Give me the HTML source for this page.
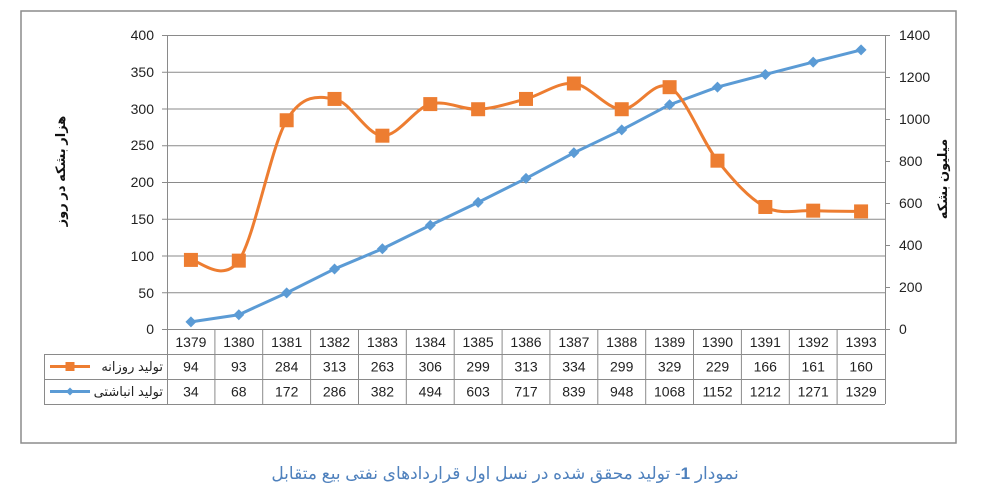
<!DOCTYPE html>
<html>
<head>
<meta charset="utf-8">
<style>
  html, body { margin:0; padding:0; background:#fff; }
  body { width:999px; height:499px; overflow:hidden; }
  svg { display:block; }
  text { font-family: "Liberation Sans", "DejaVu Sans", sans-serif; }
  .fa { font-family: "Liberation Sans", "DejaVu Sans", "Noto Sans CJK SC", sans-serif; }
</style>
</head>
<body>
<svg width="999" height="499" viewBox="0 0 999 499" xmlns="http://www.w3.org/2000/svg">
  <rect x="0" y="0" width="999" height="499" fill="#fff"/>
  <!-- outer frame -->
  <rect x="21" y="11" width="935" height="432" fill="none" stroke="#8c8c8c" stroke-width="1.5"/>

  <!-- gridlines -->
  <g stroke="#8a8a8a" stroke-width="1">
    <line x1="162" y1="35.5" x2="890" y2="35.5"/>
    <line x1="162" y1="72.25" x2="885" y2="72.25"/>
    <line x1="162" y1="109" x2="885" y2="109"/>
    <line x1="162" y1="145.75" x2="885" y2="145.75"/>
    <line x1="162" y1="182.5" x2="885" y2="182.5"/>
    <line x1="162" y1="219.25" x2="885" y2="219.25"/>
    <line x1="162" y1="256" x2="885" y2="256"/>
    <line x1="162" y1="292.75" x2="885" y2="292.75"/>
    <line x1="162" y1="329.5" x2="890" y2="329.5"/>
    <!-- right ticks -->
    <line x1="885" y1="77.5" x2="890" y2="77.5"/>
    <line x1="885" y1="119.5" x2="890" y2="119.5"/>
    <line x1="885" y1="161.5" x2="890" y2="161.5"/>
    <line x1="885" y1="203.5" x2="890" y2="203.5"/>
    <line x1="885" y1="245.5" x2="890" y2="245.5"/>
    <line x1="885" y1="287.5" x2="890" y2="287.5"/>
    <!-- axes -->
    <line x1="167.5" y1="35" x2="167.5" y2="404"/>
    <line x1="885.5" y1="35" x2="885.5" y2="404"/>
  </g>

  <!-- left tick labels -->
  <g font-size="14" fill="#222" text-anchor="end">
    <text x="154" y="40">400</text>
    <text x="154" y="77">350</text>
    <text x="154" y="114">300</text>
    <text x="154" y="150">250</text>
    <text x="154" y="187">200</text>
    <text x="154" y="224">150</text>
    <text x="154" y="261">100</text>
    <text x="154" y="298">50</text>
    <text x="154" y="334">0</text>
  </g>
  <!-- right tick labels -->
  <g font-size="14" fill="#222" text-anchor="start">
    <text x="899" y="40">1400</text>
    <text x="899" y="82">1200</text>
    <text x="899" y="124">1000</text>
    <text x="899" y="166">800</text>
    <text x="899" y="208">600</text>
    <text x="899" y="250">400</text>
    <text x="899" y="292">200</text>
    <text x="899" y="334">0</text>
  </g>

  <!-- axis titles -->
  <text class="fa" x="0" y="0" font-size="13" font-weight="bold" fill="#111" text-anchor="middle" transform="translate(65,171) rotate(-90)" direction="rtl">هزار بشکه در روز</text>
  <text class="fa" x="0" y="0" font-size="13" font-weight="bold" fill="#111" text-anchor="middle" transform="translate(947,179) rotate(-90)" direction="rtl">میلیون بشکه</text>

  <!-- data table -->
  <g stroke="#8a8a8a" stroke-width="1" fill="none">
    <line x1="167" y1="354.5" x2="885" y2="354.5"/>
    <line x1="44" y1="354.5" x2="167" y2="354.5"/>
    <line x1="44" y1="379.5" x2="885" y2="379.5"/>
    <line x1="44" y1="404.5" x2="885" y2="404.5"/>
    <line x1="44.5" y1="354" x2="44.5" y2="404"/>
    <line x1="214.9" y1="329" x2="214.9" y2="404"/>
    <line x1="262.7" y1="329" x2="262.7" y2="404"/>
    <line x1="310.6" y1="329" x2="310.6" y2="404"/>
    <line x1="358.5" y1="329" x2="358.5" y2="404"/>
    <line x1="406.3" y1="329" x2="406.3" y2="404"/>
    <line x1="454.2" y1="329" x2="454.2" y2="404"/>
    <line x1="502.1" y1="329" x2="502.1" y2="404"/>
    <line x1="549.9" y1="329" x2="549.9" y2="404"/>
    <line x1="597.8" y1="329" x2="597.8" y2="404"/>
    <line x1="645.7" y1="329" x2="645.7" y2="404"/>
    <line x1="693.5" y1="329" x2="693.5" y2="404"/>
    <line x1="741.4" y1="329" x2="741.4" y2="404"/>
    <line x1="789.3" y1="329" x2="789.3" y2="404"/>
    <line x1="837.1" y1="329" x2="837.1" y2="404"/>
  </g>
  <g font-size="14" fill="#222" text-anchor="middle">
    <text x="190.9" y="347">1379</text><text x="238.8" y="347">1380</text><text x="286.7" y="347">1381</text><text x="334.5" y="347">1382</text><text x="382.4" y="347">1383</text><text x="430.3" y="347">1384</text><text x="478.1" y="347">1385</text><text x="526" y="347">1386</text><text x="573.9" y="347">1387</text><text x="621.7" y="347">1388</text><text x="669.6" y="347">1389</text><text x="717.5" y="347">1390</text><text x="765.3" y="347">1391</text><text x="813.2" y="347">1392</text><text x="861.1" y="347">1393</text>

    <text x="190.9" y="371.5">94</text><text x="238.8" y="371.5">93</text><text x="286.7" y="371.5">284</text><text x="334.5" y="371.5">313</text><text x="382.4" y="371.5">263</text><text x="430.3" y="371.5">306</text><text x="478.1" y="371.5">299</text><text x="526" y="371.5">313</text><text x="573.9" y="371.5">334</text><text x="621.7" y="371.5">299</text><text x="669.6" y="371.5">329</text><text x="717.5" y="371.5">229</text><text x="765.3" y="371.5">166</text><text x="813.2" y="371.5">161</text><text x="861.1" y="371.5">160</text>

    <text x="190.9" y="396.5">34</text><text x="238.8" y="396.5">68</text><text x="286.7" y="396.5">172</text><text x="334.5" y="396.5">286</text><text x="382.4" y="396.5">382</text><text x="430.3" y="396.5">494</text><text x="478.1" y="396.5">603</text><text x="526" y="396.5">717</text><text x="573.9" y="396.5">839</text><text x="621.7" y="396.5">948</text><text x="669.6" y="396.5">1068</text><text x="717.5" y="396.5">1152</text><text x="765.3" y="396.5">1212</text><text x="813.2" y="396.5">1271</text><text x="861.1" y="396.5">1329</text>
  </g>
  <!-- legend keys -->
  <line x1="50" y1="366.5" x2="90" y2="366.5" stroke="#ED7D31" stroke-width="3"/>
  <rect x="65.5" y="362" width="9" height="9" fill="#ED7D31"/>
  <text class="fa" x="163" y="371" font-size="13" fill="#222" text-anchor="start" direction="rtl">تولید روزانه</text>
  <line x1="50" y1="391.5" x2="90" y2="391.5" stroke="#5B9BD5" stroke-width="3"/>
  <polygon points="70,387.5 74,391.5 70,395.5 66,391.5" fill="#5B9BD5"/>
  <text class="fa" x="163" y="396" font-size="13" fill="#222" text-anchor="start" direction="rtl">تولید انباشتی</text>

  <!-- blue series -->
  <polyline fill="none" stroke="#5B9BD5" stroke-width="3" stroke-linejoin="round"
    points="190.93,321.86 238.8,314.72 286.67,292.88 334.53,268.94 382.4,248.78 430.27,225.26 478.13,202.37 526,178.43 573.87,152.81 621.73,129.92 669.6,104.72 717.47,87.08 765.33,74.48 813.2,62.09 861.07,49.91"/>
  <g fill="#5B9BD5">
    <polygon points="190.93,316.36 196.43,321.86 190.93,327.36 185.43,321.86"/>
    <polygon points="238.8,309.22 244.3,314.72 238.8,320.22 233.3,314.72"/>
    <polygon points="286.67,287.38 292.17,292.88 286.67,298.38 281.17,292.88"/>
    <polygon points="334.53,263.44 340.03,268.94 334.53,274.44 329.03,268.94"/>
    <polygon points="382.4,243.28 387.9,248.78 382.4,254.28 376.9,248.78"/>
    <polygon points="430.27,219.76 435.77,225.26 430.27,230.76 424.77,225.26"/>
    <polygon points="478.13,196.87 483.63,202.37 478.13,207.87 472.63,202.37"/>
    <polygon points="526,172.93 531.5,178.43 526,183.93 520.5,178.43"/>
    <polygon points="573.87,147.31 579.37,152.81 573.87,158.31 568.37,152.81"/>
    <polygon points="621.73,124.42 627.23,129.92 621.73,135.42 616.23,129.92"/>
    <polygon points="669.6,99.22 675.1,104.72 669.6,110.22 664.1,104.72"/>
    <polygon points="717.47,81.58 722.97,87.08 717.47,92.58 711.97,87.08"/>
    <polygon points="765.33,68.98 770.83,74.48 765.33,79.98 759.83,74.48"/>
    <polygon points="813.2,56.59 818.7,62.09 813.2,67.59 807.7,62.09"/>
    <polygon points="861.07,44.41 866.57,49.91 861.07,55.41 855.57,49.91"/>
  </g>

  <!-- orange series (smoothed) -->
  <path fill="none" stroke="#ED7D31" stroke-width="3" stroke-linejoin="round"
    d="M190.93,259.91
       C198.91,260.03 222.84,283.92 238.8,260.64
       C254.75,237.37 270.71,147.21 286.67,120.26
       C302.62,93.31 318.58,96.37 334.53,98.94
       C350.49,101.51 366.45,134.83 382.4,135.69
       C398.36,136.55 414.31,108.50 430.27,104.09
       C446.22,99.68 462.18,110.09 478.13,109.23
       C494.09,108.37 510.05,103.23 526,98.94
       C541.96,94.65 557.91,81.80 573.87,83.51
       C589.82,85.23 605.78,108.62 621.73,109.23
       C637.69,109.84 653.65,78.61 669.6,87.18
       C685.56,95.76 701.51,140.71 717.47,160.68
       C733.42,180.65 749.38,198.66 765.33,206.99
       C781.29,215.32 797.25,209.92 813.2,210.66
       C829.16,211.40 853.09,211.28 861.07,211.4"/>
  <g fill="#ED7D31">
    <rect x="183.93" y="252.91" width="14" height="14"/>
    <rect x="231.8" y="253.64" width="14" height="14"/>
    <rect x="279.67" y="113.26" width="14" height="14"/>
    <rect x="327.53" y="91.94" width="14" height="14"/>
    <rect x="375.4" y="128.69" width="14" height="14"/>
    <rect x="423.27" y="97.09" width="14" height="14"/>
    <rect x="471.13" y="102.23" width="14" height="14"/>
    <rect x="519" y="91.94" width="14" height="14"/>
    <rect x="566.87" y="76.51" width="14" height="14"/>
    <rect x="614.73" y="102.23" width="14" height="14"/>
    <rect x="662.6" y="80.18" width="14" height="14"/>
    <rect x="710.47" y="153.68" width="14" height="14"/>
    <rect x="758.33" y="199.99" width="14" height="14"/>
    <rect x="806.2" y="203.66" width="14" height="14"/>
    <rect x="854.07" y="204.4" width="14" height="14"/>
  </g>

  <!-- caption -->
  <text class="fa" x="505" y="479" font-size="17" fill="#4F81BD" text-anchor="middle" direction="rtl">نمودار <tspan font-weight="bold">1</tspan>- تولید محقق شده در نسل اول قراردادهای نفتی بیع متقابل</text>
</svg>
</body>
</html>
